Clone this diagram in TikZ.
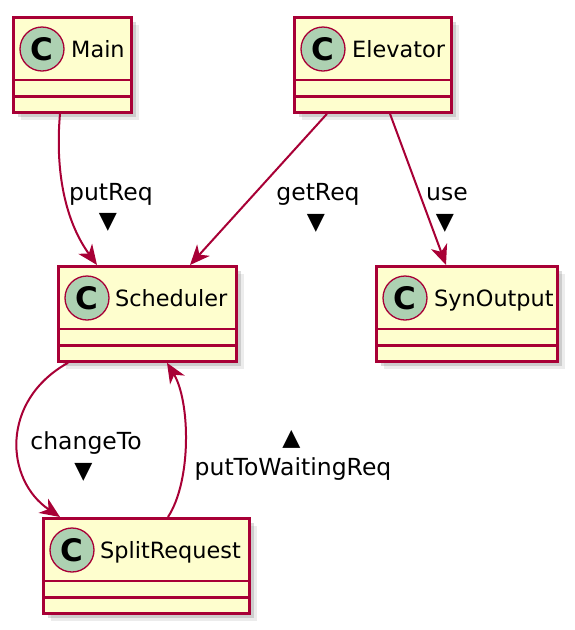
\documentclass[tikz,border=0pt]{standalone}
\usepackage{fontspec}
\setmainfont{DejaVu Sans}
\usetikzlibrary{arrows.meta,shadows}
\definecolor{plumborder}{RGB}{168, 0, 54}
\definecolor{classfill}{RGB}{254, 254, 206}
\definecolor{iconfill}{RGB}{173, 209, 178}

\begin{document}
\begin{tikzpicture}[x=1pt, y=-1pt,
    classbox/.style={draw=plumborder, fill=classfill, line width=2.8pt, anchor=north west,
                     minimum height=95pt, inner sep=0pt,
                     drop shadow={shadow xshift=2pt, shadow yshift=-2pt, opacity=0.3},
                     drop shadow={shadow xshift=5pt, shadow yshift=-5pt, opacity=0.28},
                     drop shadow={shadow xshift=8pt, shadow yshift=-8pt, opacity=0.15}},
    classline/.style={draw=plumborder, line width=2.8pt},
    classicon/.style={circle, draw=plumborder, fill=iconfill, line width=1.3pt, minimum size=44pt,
                      inner sep=0pt, font=\bfseries\fontsize{31}{31}\selectfont},
    classname/.style={anchor=base west, inner sep=0pt, font=\fontsize{22.4}{26}\selectfont},
    assoc/.style={draw=plumborder, line width=2pt, -{Stealth[length=20pt, width=17pt, inset=6pt]}},
    linklabel/.style={anchor=base, inner sep=0pt, font=\fontsize{23.5}{28}\selectfont},
    linkdir/.style={inner sep=0pt, font=\fontsize{23.5}{28}\selectfont}]
            % Frame to ensure alignment
            \useasboundingbox (0,0) rectangle (574,630);
            \fill[white] (0,0) rectangle (574,630);
            % Main
            \node[classbox, minimum width=118pt] (main) at (12,16) {};
            \draw[classline] ([yshift=-64pt]main.north west) -- ([yshift=-64pt]main.north east);
            \draw[classline] ([yshift=-80.5pt]main.north west) -- ([yshift=-80.5pt]main.north east);
            \node[classicon] (mainicon) at ([xshift=30pt, yshift=-33pt]main.north west) {C};
            \node[classname] (mainname) at ([xshift=59pt, yshift=-41pt]main.north west) {Main};
            % Elevator
            \node[classbox, minimum width=157pt] (elevator) at (293,16) {};
            \draw[classline] ([yshift=-64pt]elevator.north west) -- ([yshift=-64pt]elevator.north east);
            \draw[classline] ([yshift=-80.5pt]elevator.north west) -- ([yshift=-80.5pt]elevator.north east);
            \node[classicon] (elevatoricon) at ([xshift=30pt, yshift=-33pt]elevator.north west) {C};
            \node[classname] (elevatorname) at ([xshift=59pt, yshift=-41pt]elevator.north west) {Elevator};
            % Scheduler
            \node[classbox, minimum width=178pt] (scheduler) at (57,265) {};
            \draw[classline] ([yshift=-64pt]scheduler.north west) -- ([yshift=-64pt]scheduler.north east);
            \draw[classline] ([yshift=-80.5pt]scheduler.north west) -- ([yshift=-80.5pt]scheduler.north east);
            \node[classicon] (schedulericon) at ([xshift=30pt, yshift=-33pt]scheduler.north west) {C};
            \node[classname] (schedulername) at ([xshift=58pt, yshift=-41pt]scheduler.north west) {Scheduler};
            % SynOutput
            \node[classbox, minimum width=181pt] (synoutput) at (375,265) {};
            \draw[classline] ([yshift=-64pt]synoutput.north west) -- ([yshift=-64pt]synoutput.north east);
            \draw[classline] ([yshift=-80.5pt]synoutput.north west) -- ([yshift=-80.5pt]synoutput.north east);
            \node[classicon] (synoutputicon) at ([xshift=30pt, yshift=-33pt]synoutput.north west) {C};
            \node[classname] (synoutputname) at ([xshift=59pt, yshift=-41pt]synoutput.north west) {SynOutput};
            % SplitRequest
            \node[classbox, minimum width=206pt] (splitrequest) at (42,517) {};
            \draw[classline] ([yshift=-64pt]splitrequest.north west) -- ([yshift=-64pt]splitrequest.north east);
            \draw[classline] ([yshift=-80.5pt]splitrequest.north west) -- ([yshift=-80.5pt]splitrequest.north east);
            \node[classicon] (splitrequesticon) at ([xshift=30pt, yshift=-33pt]splitrequest.north west) {C};
            \node[classname] (splitrequestname) at ([xshift=58pt, yshift=-41pt]splitrequest.north west) {SplitRequest};
            % Links
            \draw[assoc] ([xshift=48pt]main.south west) .. controls +(-5,57) and +(-32,-44) .. ([xshift=40pt]scheduler.north west);
            \draw[assoc] ([xshift=34pt]elevator.south west) -- ([xshift=133pt]scheduler.north west);
            \draw[assoc] ([xshift=97pt]elevator.south west) -- ([xshift=71pt]synoutput.north west);
            \draw[assoc] ([xshift=11pt]scheduler.south west) .. controls +(-68,38) and +(-55,-37) .. ([xshift=18pt]splitrequest.north west);
            \draw[assoc] ([xshift=126pt]splitrequest.north west) .. controls +(24,-37) and +(23,38) .. ([xshift=110pt]scheduler.south west);
            % Link labels
            \node[linklabel] (putreqtext) at (111,200) {putReq};
            \node[linkdir] (putreqdir) at (108,222.5) {▼};
            \node[linklabel] (getreqtext) at (318,200) {getReq};
            \node[linkdir] (getreqdir) at (316,223) {▼};
            \node[linklabel] (usetext) at (447,200) {use};
            \node[linkdir] (usedir) at (445,223) {▼};
            \node[linklabel] (changetotext) at (86,449) {changeTo};
            \node[linkdir] (changetodir) at (83.5,472) {▼};
            \node[linkdir] (waitingdir) at (291.5,439) {▲};
            \node[linklabel] (waitingtext) at (293,475) {putToWaitingReq};
        \end{tikzpicture}
\end{document}
